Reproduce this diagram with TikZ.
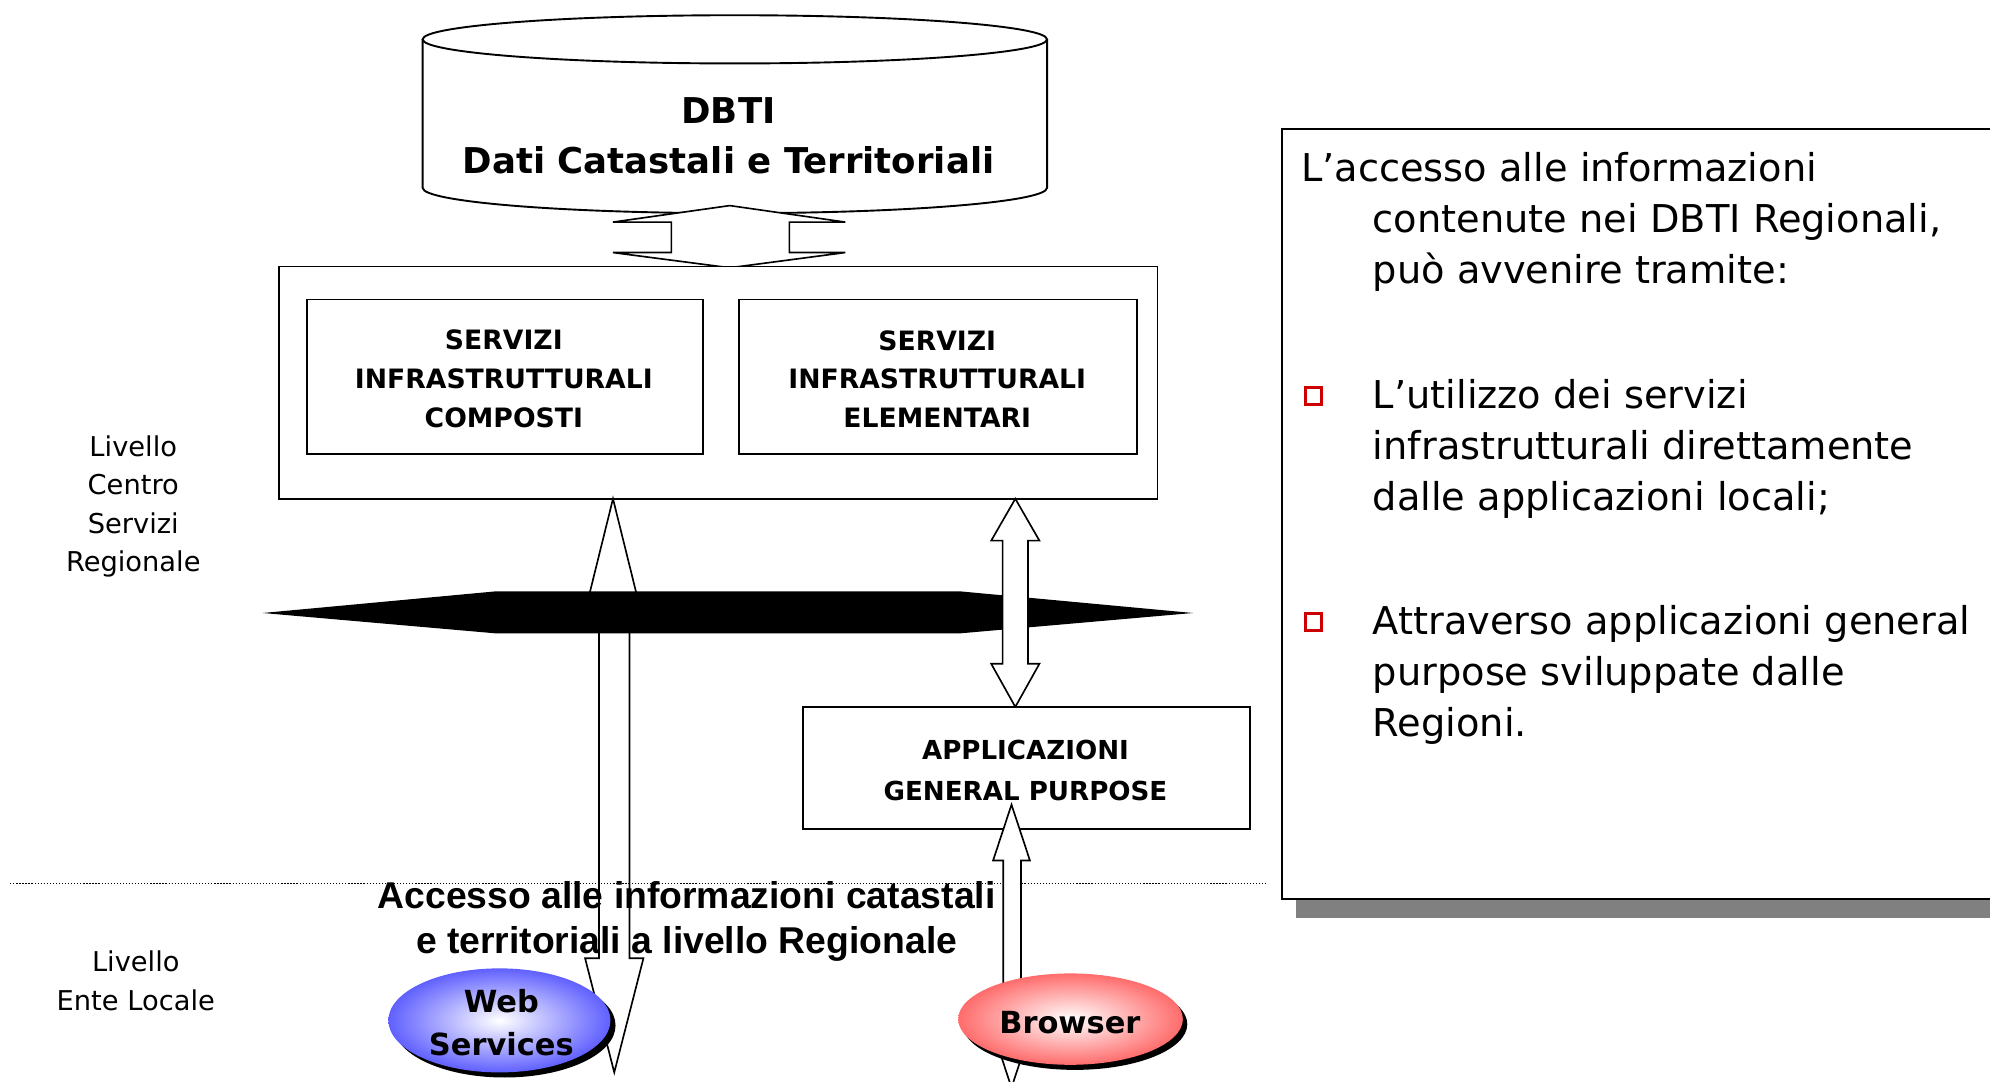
\documentclass[tikz,border=0pt]{standalone}
\usepackage{fontspec}
\setmainfont{DejaVu Sans}
\newfontfamily\arialfont{Liberation Sans}
\usetikzlibrary{shapes.geometric}
\definecolor{wsblue}{RGB}{96,96,255}
\definecolor{brpink}{RGB}{255,108,108}
\definecolor{bulletred}{RGB}{204,0,0}
\definecolor{shadowgray}{RGB}{128,128,128}
\begin{document}
\begin{tikzpicture}[x=1pt,y=-1pt,line join=miter,
  box/.style={draw=black,line width=1.5pt,fill=white,inner sep=0pt},
  blockarrow/.style={draw=black,line width=1.3pt,fill=white,line join=miter},
  boxtext/.style={font=\fontsize{21}{30.5}\selectfont\bfseries,align=center},
  lbl/.style={font=\fontsize{21.5}{30.3}\selectfont,align=center,inner sep=0pt},
  paneltext/.style={font=\fontsize{30.2}{40}\selectfont,anchor=base west,inner sep=0pt},
  bul/.style={draw=bulletred,line width=2.4pt,minimum size=13pt,inner sep=0pt},
  ovaltext/.style={font=\fontsize{24}{34}\selectfont\bfseries,align=center,inner sep=0pt}]
\useasboundingbox (0,0) rectangle (1568,852.55);
\clip (0,0) rectangle (1568,852.55);
% ---------- cylinder DBTI ----------
\fill[white] (333,31) -- (333,148) .. controls (333,159.05) and (443.14,168) .. (579,168)
  .. controls (714.86,168) and (825,159.05) .. (825,148) -- (825,31) -- cycle;
\draw[line width=1.5pt] (333,31) -- (333,148) .. controls (333,159.05) and (443.14,168) .. (579,168)
  .. controls (714.86,168) and (825,159.05) .. (825,148) -- (825,31);
\draw[line width=1.5pt,fill=white] (579,31) ellipse[x radius=246pt,y radius=19pt];
\node[font=\fontsize{28}{39}\selectfont\bfseries,align=center,inner sep=0pt] (dbti) at (574,107)
  {DBTI\\Dati Catastali e Territoriali};
% ---------- double arrow DBTI <-> centre ----------
\draw[blockarrow] (575,162) -- (666,175) -- (622,175) -- (622,199) -- (666,199) -- (575,211)
  -- (483,199) -- (529,199) -- (529,175) -- (483,175) -- cycle;
% ---------- centre servizi box ----------
\node[box,minimum width=692pt,minimum height=183pt] (csr) at (566,301.5) {};
\node[box,minimum width=312pt,minimum height=122pt] (sic) at (398,297) {};
\node[boxtext] (sict) at (397,298.5) {SERVIZI\\INFRASTRUTTURALI\\COMPOSTI};
\node[box,minimum width=314pt,minimum height=122pt] (sie) at (739,297) {};
\node[boxtext] (siet) at (738.5,298.5) {SERVIZI\\INFRASTRUTTURALI\\ELEMENTARI};
% ---------- left labels ----------
\node[lbl] (lcsr) at (105,399) {Livello\\Centro\\Servizi\\Regionale};
\node[lbl] (lel) at (107,773) {Livello\\Ente Locale};
% ---------- long arrow (behind the band) ----------
\draw[blockarrow] (483,393) -- (506,486) -- (496,486) -- (496,755) -- (507,755) -- (484,845)
  -- (461,755) -- (472,755) -- (472,486) -- (460,486) -- cycle;
% ---------- black band ----------
\fill[black] (207,483) -- (390,466) -- (757,466) -- (940,483) -- (757,499) -- (390,499) -- cycle;
% ---------- arrow centre <-> applicazioni ----------
\draw[blockarrow] (800,393) -- (819,426) -- (810,426) -- (810,523) -- (819,523) -- (800,557)
  -- (781,523) -- (790,523) -- (790,426) -- (781,426) -- cycle;
% ---------- applicazioni box ----------
\node[box,minimum width=352pt,minimum height=96pt] (agp) at (809,605) {};
\node[font=\fontsize{20.6}{32}\selectfont\bfseries,align=center,inner sep=0pt]
  (agpt) at (808,607) {APPLICAZIONI\\GENERAL PURPOSE};
% ---------- dotted separator ----------
\coordinate (dl) at (8,696);
\coordinate (dr) at (998,696);
\draw[line width=1pt,dash pattern=on 1pt off 1.4pt] (dl) -- (dr);
% ---------- arrow applicazioni <-> browser ----------
\draw[blockarrow] (797,634) -- (811.5,678) -- (804.5,678) -- (804.5,813) -- (811.5,813) -- (797,857)
  -- (782.5,813) -- (790.5,813) -- (790.5,678) -- (782.5,678) -- cycle;
% ---------- caption ----------
\node[font=\arialfont\fontsize{29.4}{36}\selectfont\bfseries,align=center,inner sep=0pt] (acc) at (541,726)
  {Accesso alle informazioni catastali\\e territoriali a livello Regionale};
% ---------- web services oval ----------
\fill[black] (397.5,808) ellipse[x radius=87.5pt,y radius=41pt];
\node[ellipse,inner color=white,outer color=wsblue,minimum width=175pt,minimum height=82pt,inner sep=0pt] (wsov) at (393.5,804) {};
\node[ovaltext] (ws) at (395,806) {Web\\Services};
% ---------- browser oval ----------
\fill[black] (847,807) ellipse[x radius=88.5pt,y radius=36pt];
\node[ellipse,inner color=white,outer color=brpink,minimum width=177pt,minimum height=72pt,inner sep=0pt] (brov) at (843.5,803) {};
\node[ovaltext] (br) at (843,806) {Browser};
% ---------- right panel ----------
\fill[shadowgray] (1021,113) rectangle (1580,723);
\node[draw=black,line width=1.5pt,fill=white,minimum width=570pt,minimum height=607pt,inner sep=0pt] (panel) at (1295,405) {};
\node[paneltext] (t1a) at (1025,143) {L’accesso alle informazioni};
\node[paneltext] (t1b) at (1081.5,183) {contenute nei DBTI Regionali,};
\node[paneltext] (t1c) at (1081.5,223) {può avvenire tramite:};
\node[bul] (b1) at (1035,312) {};
\node[paneltext] (t2a) at (1081.5,322) {L’utilizzo dei servizi};
\node[paneltext] (t2b) at (1081.5,362) {infrastrutturali direttamente};
\node[paneltext] (t2c) at (1081.5,402) {dalle applicazioni locali;};
\node[bul] (b2) at (1035,490) {};
\node[paneltext] (t3a) at (1081.5,500) {Attraverso applicazioni general};
\node[paneltext] (t3b) at (1081.5,540) {purpose sviluppate dalle};
\node[paneltext] (t3c) at (1081.5,580) {Regioni.};
\end{tikzpicture}
\end{document}
